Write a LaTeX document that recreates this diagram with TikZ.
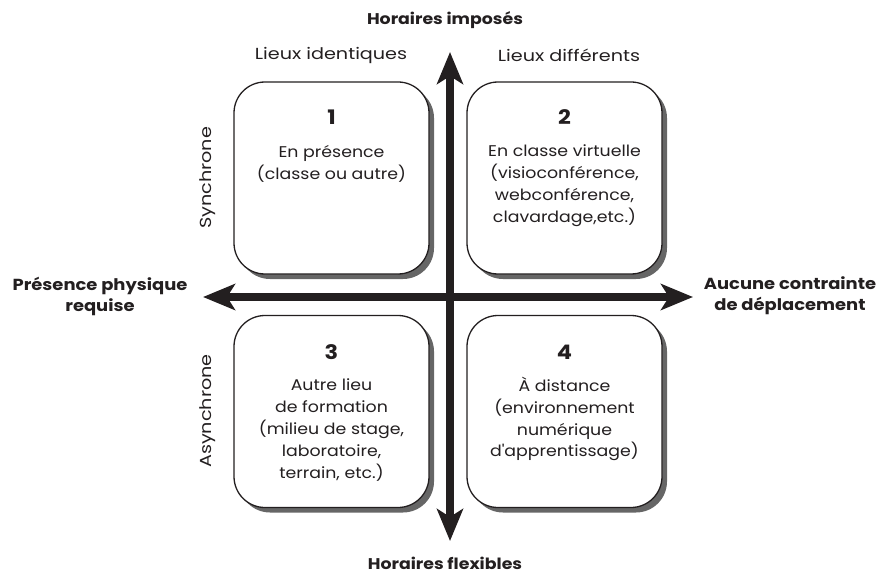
\documentclass[tikz,border=0pt]{standalone}
\usepackage{fontspec}
\setmainfont[FakeStretch=1.12]{Poppins}
\newfontfamily\widef[FakeStretch=1.2]{Poppins}
\usetikzlibrary{arrows.meta,shadows}
\definecolor{ink}{HTML}{231F20}
\definecolor{shade}{HTML}{666666}
\begin{document}
\begin{tikzpicture}[x=1pt,y=-1pt,
  box/.style={draw=ink, line width=1.3pt, fill=white, rounded corners=31pt,
    minimum width=195pt, minimum height=192pt, inner sep=0pt,
    general shadow={fill=shade, shadow xshift=5pt, shadow yshift=-5pt}},
  num/.style={font=\fontsize{20}{22}\selectfont\bfseries, text=ink, inner sep=0pt},
  body/.style={font=\fontsize{15.5}{21.8}\selectfont, text=ink, align=center, inner sep=0pt, anchor=north},
  head/.style={font=\fontsize{15.5}{21}\selectfont\bfseries, text=ink, align=center, inner sep=0pt},
  sidehead/.style={head, font=\fontsize{16}{21}\selectfont\bfseries},
  lab/.style={font=\widef\fontsize{16}{18}\selectfont, text=ink, inner sep=0pt},
  bigarrow/.style={draw=ink, line width=8pt,
    {Stealth[length=32pt,width=26pt,inset=8pt]}-{Stealth[length=32pt,width=26pt,inset=8pt]}}
]
\useasboundingbox (0,0) rectangle (888,580);

% boxes
\node[box] (b1) at (331.5,178) {};
\node[box] (b2) at (564.5,178) {};
\node[box] (b3) at (331.5,411.5) {};
\node[box] (b4) at (564.5,411.5) {};

% arrows
\coordinate (top) at (450,52);
\coordinate (bot) at (450,541);
\coordinate (lft) at (203,297);
\coordinate (rgt) at (693,297);
\draw[bigarrow] (bot) -- (top);
\draw[bigarrow] (lft) -- (rgt);

% numbers
\node[num] (n1) at (331.5,117) {1};
\node[num] (n2) at (564.5,117) {2};
\node[num] (n3) at (331.5,352) {3};
\node[num] (n4) at (564.5,352) {4};

% box texts
\node[body] (t1) at (331.5,145) {En présence\\(classe ou autre)};
\node[body] (t2) at (564.5,145) {En classe virtuelle\\(visioconférence,\\webconférence,\\clavardage,etc.)};
\node[body] (t3) at (331.5,379) {Autre lieu\\de formation\\(milieu de stage,\\laboratoire,\\terrain, etc.)};
\node[body] (t4) at (564.5,377) {À distance\\(environnement\\numérique\\d\textquotesingle apprentissage)};

% axis labels
\node[head] (hi) at (445,20) {Horaires imposés};
\node[head] (hf) at (445,563) {Horaires flexibles};
\node[sidehead] (pp) at (100,296) {Présence physique\\requise};
\node[sidehead] (ac) at (790,296) {Aucune contrainte\\de déplacement};

\node[lab] (li) at (331,55) {Lieux identiques};
\node[lab] (ld) at (569,55) {Lieux différents};
\node[lab, rotate=90] (sy) at (208,178) {Synchrone};
\node[lab, rotate=90] (as) at (208,411) {Asynchrone};
\end{tikzpicture}
\end{document}
